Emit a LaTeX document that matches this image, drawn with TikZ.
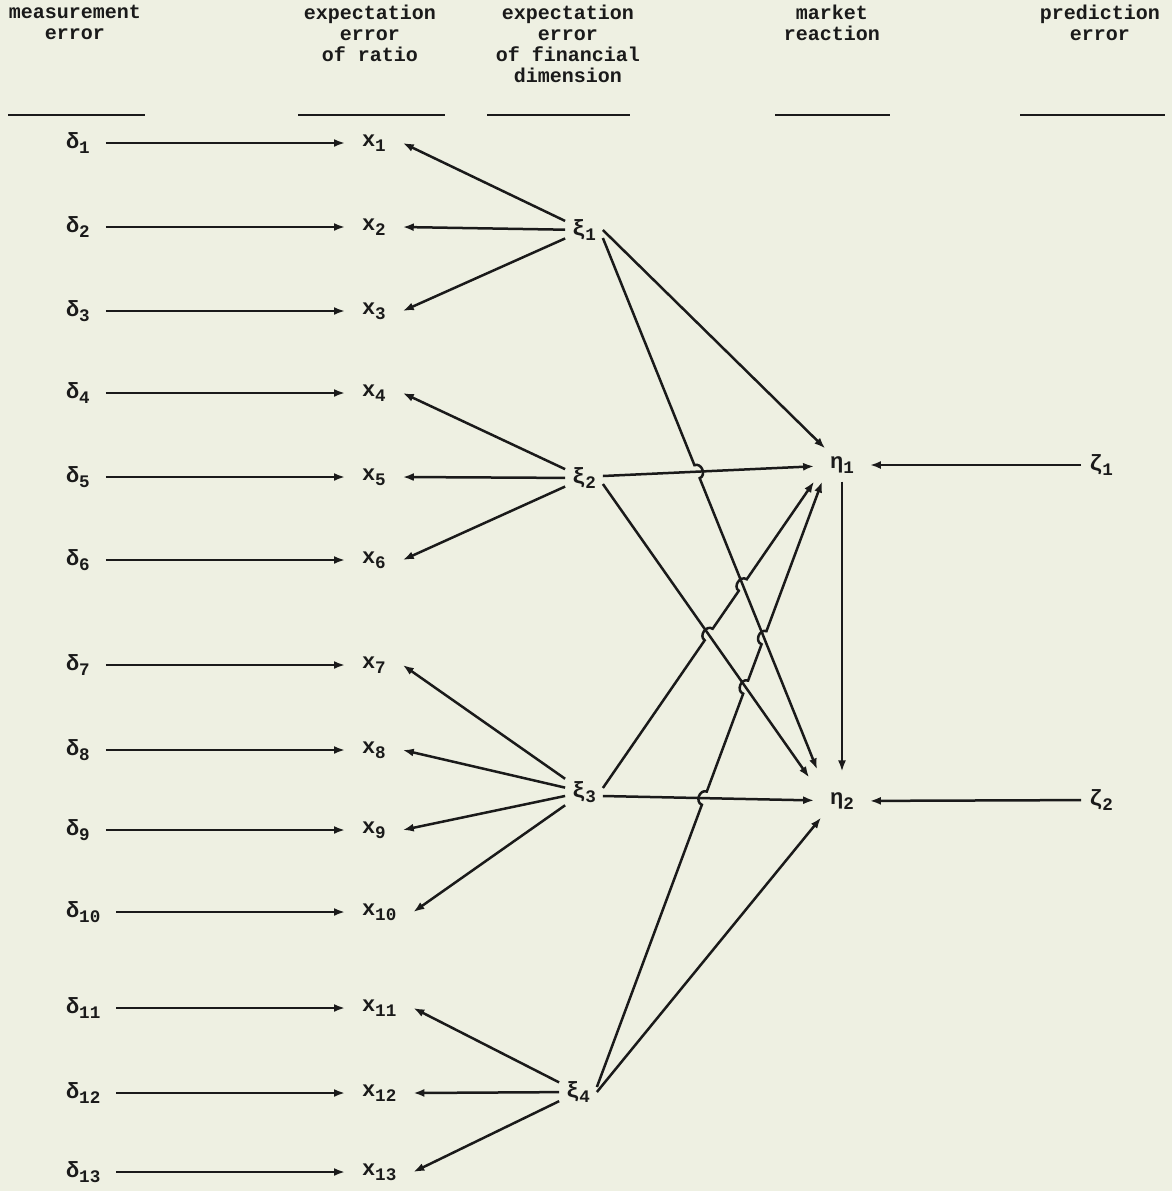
\documentclass[tikz,border=0pt]{standalone}
\usepackage{fontspec}
\setmainfont{Liberation Mono}
\usetikzlibrary{arrows.meta,calc,intersections}
\definecolor{paper}{HTML}{EEF0E2}
\definecolor{ink}{HTML}{1A1A1A}
\newcommand\lowsub[1]{\raisebox{-0.45ex}{\fontsize{8.8}{9}\selectfont #1}}
\begin{document}
\begin{tikzpicture}[x=0.5pt,y=-0.5pt,
  every node/.style={text=ink},
  arr/.style={draw=ink, line width=1.25pt, -{Latex[length=5.5pt,width=4pt]}},
  hdr/.style={align=center, inner sep=0, anchor=north, font=\fontsize{10}{10.5}\selectfont\bfseries},
  hrule/.style={draw=ink, line width=1pt},
  lbl/.style={inner sep=0, font=\fontsize{11}{12}\selectfont\bfseries},
  dnode/.style={lbl, anchor=west, outer sep=8pt},
  xnode/.style={lbl, anchor=west, outer sep=8.5pt},
  xinode/.style={lbl, outer sep=3.5pt},
  etanode/.style={lbl, outer xsep=8pt, outer ysep=4pt},
  zetanode/.style={lbl, outer sep=4pt},
  hop/.style={bend left=90, looseness=1.4}
]
\fill[paper] (0,0) rectangle (1172,1191);
\useasboundingbox (0,0) rectangle (1172,1191);

% headers
\node[hdr] (h1) at (75,5) {measurement\\error};
\node[hdr] (h2) at (370,5) {expectation\\error\\of ratio};
\node[hdr] (h3) at (568,5) {expectation\\error\\of financial\\dimension};
\node[hdr] (h4) at (832,5) {market\\reaction};
\node[hdr] (h5) at (1100,5) {prediction\\error};
\draw[hrule] (8,115) -- (145,115);
\draw[hrule] (298,115) -- (445,115);
\draw[hrule] (487,115) -- (630,115);
\draw[hrule] (775,115) -- (890,115);
\draw[hrule] (1020,115) -- (1165,115);

% measurement errors and ratios
\foreach \i/\y in {1/143,2/227,3/311,4/393,5/477,6/560,7/665,8/750,9/830,10/912,11/1008,12/1093,13/1172}{
  \node[dnode] (d\i) at (50,\y) {δ\lowsub{\i}};
  \node[xnode] (x\i) at (345,\y) {x\lowsub{\i}};
  \draw[arr] (d\i.east) -- (x\i.west);
}

% financial dimensions
\node[xinode] (xi1) at (584,230) {ξ\lowsub{1}\hspace{9pt}};
\node[xinode] (xi2) at (584,478) {ξ\lowsub{2}\hspace{9pt}};
\node[xinode] (xi3) at (584,792) {ξ\lowsub{3}\hspace{9pt}};
\node[xinode] (xi4) at (578,1092) {ξ\lowsub{4}\hspace{9pt}};

% market reaction and prediction error
\node[etanode] (eta1) at (842,465) {η\lowsub{1}};
\node[etanode] (eta2) at (842,801) {η\lowsub{2}};
\node[zetanode] (z1) at (1101,465) {ζ\lowsub{1}};
\node[zetanode] (z2) at (1101,800) {ζ\lowsub{2}};

% loadings
\foreach \j/\a/\b in {1/1/3,2/4/6,3/7/10,4/11/13}{
  \foreach \i in {\a,...,\b}{
    \draw[arr] (xi\j) -- (x\i.east);
  }
}

% helper end points
\coordinate (s1a) at ([yshift=0pt]xi1.east);
\coordinate (s1b) at ([yshift=-4pt]xi1.east);
\coordinate (s2a) at ([yshift=1pt]xi2.east);
\coordinate (s2b) at ([yshift=-3pt]xi2.east);
\coordinate (s3a) at ([yshift=2pt]xi3.east);
\coordinate (s3b) at ([yshift=-2pt]xi3.east);
\coordinate (s4a) at ([yshift=2.5pt]xi4.east);
\coordinate (s4b) at ([yshift=0pt]xi4.east);
\coordinate (t12) at ([shift={(1.5pt,7.5pt)}]eta2.north west);
\coordinate (t22) at ([shift={(-2.5pt,3.5pt)}]eta2.north west);
\coordinate (t31) at (eta1.south west);
\coordinate (t41) at ([xshift=4pt]eta1.south west);
\coordinate (t42) at ([xshift=3.5pt]eta2.south west);

\path[name path=L12] (s1b) -- (t12);
\path[name path=L21] (s2a) -- (eta1);
\path[name path=L22] (s2b) -- (t22);
\path[name path=L31] (s3a) -- (t31);
\path[name path=L32] (s3b) -- (eta2);
\path[name path=L41] (s4a) -- (t41);
\path[name intersections={of=L12 and L21, by=c1}];
\path[name intersections={of=L31 and L22, by=c2}];
\path[name intersections={of=L31 and L12, by=c3}];
\path[name intersections={of=L41 and L32, by=c4}];
\path[name intersections={of=L41 and L22, by=c5}];
\path[name intersections={of=L41 and L12, by=c6}];

% structural paths
\draw[arr] (s1a) -- (eta1);
\draw[arr] (s1b) -- ($(c1)!3.5pt!(s1b)$) to[hop] ($(c1)!3.5pt!(t12)$) -- (t12);
\draw[arr] (s2a) -- (eta1);
\draw[arr] (s2b) -- (t22);
\draw[arr] (s3a) -- ($(c2)!3.5pt!(s3a)$) to[hop] ($(c2)!3.5pt!(t31)$)
  -- ($(c3)!3.5pt!(s3a)$) to[hop] ($(c3)!3.5pt!(t31)$) -- (t31);
\draw[arr] (s3b) -- (eta2);
\draw[arr] (s4a) -- ($(c4)!3.5pt!(s4a)$) to[hop] ($(c4)!3.5pt!(t41)$)
  -- ($(c5)!3.5pt!(s4a)$) to[hop] ($(c5)!3.5pt!(t41)$)
  -- ($(c6)!3.5pt!(s4a)$) to[hop] ($(c6)!3.5pt!(t41)$) -- (t41);
\draw[arr] (s4b) -- (t42);
\draw[arr] (eta1.south) -- ([yshift=6.5pt]eta2.north);
\draw[arr] (z1) -- (eta1);
\draw[arr] (z2) -- (eta2);
\end{tikzpicture}
\end{document}
